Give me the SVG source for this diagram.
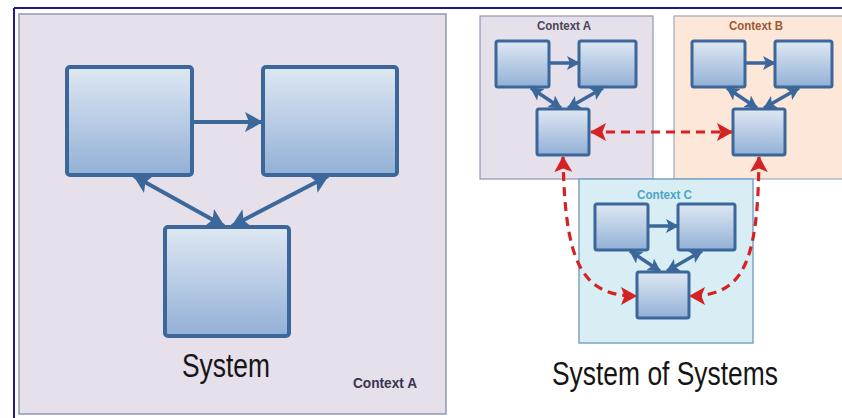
<svg xmlns="http://www.w3.org/2000/svg" width="842" height="418" viewBox="0 0 842 418">
<style>
.box{fill:url(#g);stroke:#3b679a;stroke-linejoin:round}
.big{stroke-width:4}
.sm{stroke-width:3}
.blue{stroke:#3b679a;fill:none}
.red{stroke:#d42323;fill:none;stroke-width:3.2;stroke-dasharray:9 6}
.ctx{font-family:"Liberation Sans",Arial,sans-serif;font-weight:bold}
.title{font-family:"Liberation Sans",Arial,sans-serif;fill:#151515}
</style>
<defs>
<linearGradient id="g" x1="0" y1="0" x2="0" y2="1">
<stop offset="0" stop-color="#dfe8f3"/>
<stop offset="1" stop-color="#92b0d6"/>
</linearGradient>
<marker id="ab" viewBox="0 0 18 20" refX="17" refY="10" markerWidth="18" markerHeight="20" markerUnits="userSpaceOnUse" orient="auto-start-reverse">
<path d="M0,0 L18,10 L0,20 L4,10 z" fill="#3b679a"/>
</marker>
<marker id="as" viewBox="0 0 13 14" refX="12" refY="7" markerWidth="13" markerHeight="14" markerUnits="userSpaceOnUse" orient="auto-start-reverse">
<path d="M0,0 L13,7 L0,14 L3,7 z" fill="#3b679a"/>
</marker>
<marker id="ar" viewBox="0 0 16 18" refX="15" refY="9" markerWidth="16" markerHeight="18" markerUnits="userSpaceOnUse" orient="auto-start-reverse">
<path d="M0,0 L16,9 L0,18 L3.5,9 z" fill="#d42323"/>
</marker>
</defs>
<rect width="842" height="418" fill="#ffffff"/>
<g id="frame">
<line x1="14" y1="8" x2="842" y2="8" stroke="#1c1c8e" stroke-width="2"/>
<line x1="14" y1="8" x2="14" y2="418" stroke="#1c1c8e" stroke-width="2"/>
</g>
<g id="panels">
<rect id="panel-system" x="19" y="14" width="427" height="400" fill="#e6e0eb" stroke="#8e98b8" stroke-width="1.5"/>
<rect id="panel-ctxA" x="480" y="16" width="173" height="163" fill="#e6e0eb" stroke="#8e98b8" stroke-width="1.2"/>
<rect id="panel-ctxB" x="674" y="16" width="172" height="163" fill="#fce7d9" stroke="#9aaac4" stroke-width="1.2"/>
<rect id="panel-ctxC" x="579" y="179" width="174" height="164" fill="#d9edf4" stroke="#7aa4c6" stroke-width="1.5"/>
</g>
<g id="labels">
<text class="ctx" x="353" y="388" font-size="15" fill="#3a3450" textLength="64" lengthAdjust="spacingAndGlyphs">Context A</text>
<text class="ctx" x="537" y="30" font-size="12.5" fill="#4a4458" textLength="54" lengthAdjust="spacingAndGlyphs">Context A</text>
<text class="ctx" x="729" y="30" font-size="12.5" fill="#9c5a34" textLength="54" lengthAdjust="spacingAndGlyphs">Context B</text>
<text class="ctx" x="637" y="199" font-size="12.5" fill="#4aa6c6" textLength="55" lengthAdjust="spacingAndGlyphs">Context C</text>
<text class="title" x="182" y="377" font-size="33" textLength="88" lengthAdjust="spacingAndGlyphs">System</text>
<text class="title" x="552" y="385" font-size="33" textLength="226" lengthAdjust="spacingAndGlyphs">System of Systems</text>
</g>
<g id="sys-box1"><rect class="box big" x="67" y="67" width="125" height="108" rx="3"/></g>
<g id="sys-box2"><rect class="box big" x="263" y="67" width="134" height="108" rx="3"/></g>
<g id="sys-box3"><rect class="box big" x="165" y="227" width="124" height="109" rx="3"/></g>
<g id="ctxA-box1"><rect class="box sm" x="496" y="41" width="53" height="46" rx="2"/></g>
<g id="ctxA-box2"><rect class="box sm" x="579" y="41" width="57" height="46" rx="2"/></g>
<g id="ctxA-box3"><rect class="box sm" x="537" y="109" width="52" height="46" rx="2"/></g>
<g id="ctxB-box1"><rect class="box sm" x="692" y="41" width="53" height="46" rx="2"/></g>
<g id="ctxB-box2"><rect class="box sm" x="775" y="41" width="57" height="46" rx="2"/></g>
<g id="ctxB-box3"><rect class="box sm" x="733" y="109" width="52" height="46" rx="2"/></g>
<g id="ctxC-box1"><rect class="box sm" x="595" y="204" width="53" height="46" rx="2"/></g>
<g id="ctxC-box2"><rect class="box sm" x="678" y="204" width="57" height="46" rx="2"/></g>
<g id="ctxC-box3"><rect class="box sm" x="637" y="272" width="52" height="46" rx="2"/></g>
<g id="connectors">
<line class="blue" stroke-width="4" x1="192" y1="122" x2="262" y2="122" marker-end="url(#ab)"/>
<line class="blue" stroke-width="4" x1="134" y1="176" x2="224" y2="226" marker-start="url(#ab)" marker-end="url(#ab)"/>
<line class="blue" stroke-width="4" x1="328" y1="176" x2="232" y2="226" marker-start="url(#ab)" marker-end="url(#ab)"/>
<line class="blue" stroke-width="3.5" x1="549" y1="63" x2="579" y2="63" marker-end="url(#as)"/>
<line class="blue" stroke-width="3.5" x1="531" y1="88" x2="561" y2="108" marker-start="url(#as)" marker-end="url(#as)"/>
<line class="blue" stroke-width="3.5" x1="603" y1="88" x2="568" y2="108" marker-start="url(#as)" marker-end="url(#as)"/>
<line class="blue" stroke-width="3.5" x1="745" y1="63" x2="775" y2="63" marker-end="url(#as)"/>
<line class="blue" stroke-width="3.5" x1="727" y1="88" x2="757" y2="108" marker-start="url(#as)" marker-end="url(#as)"/>
<line class="blue" stroke-width="3.5" x1="799" y1="88" x2="764" y2="108" marker-start="url(#as)" marker-end="url(#as)"/>
<line class="blue" stroke-width="3.5" x1="648" y1="226" x2="678" y2="226" marker-end="url(#as)"/>
<line class="blue" stroke-width="3.5" x1="630" y1="251" x2="660" y2="271" marker-start="url(#as)" marker-end="url(#as)"/>
<line class="blue" stroke-width="3.5" x1="702" y1="251" x2="667" y2="271" marker-start="url(#as)" marker-end="url(#as)"/>
<line class="red" x1="591" y1="132" x2="732" y2="132" marker-start="url(#ar)" marker-end="url(#ar)"/>
<path class="red" d="M563,157 C565,260 580,296 636,296" marker-start="url(#ar)" marker-end="url(#ar)"/>
<path class="red" d="M759,157 C758,260 745,296 690,296" marker-start="url(#ar)" marker-end="url(#ar)"/>
</g>
</svg>
